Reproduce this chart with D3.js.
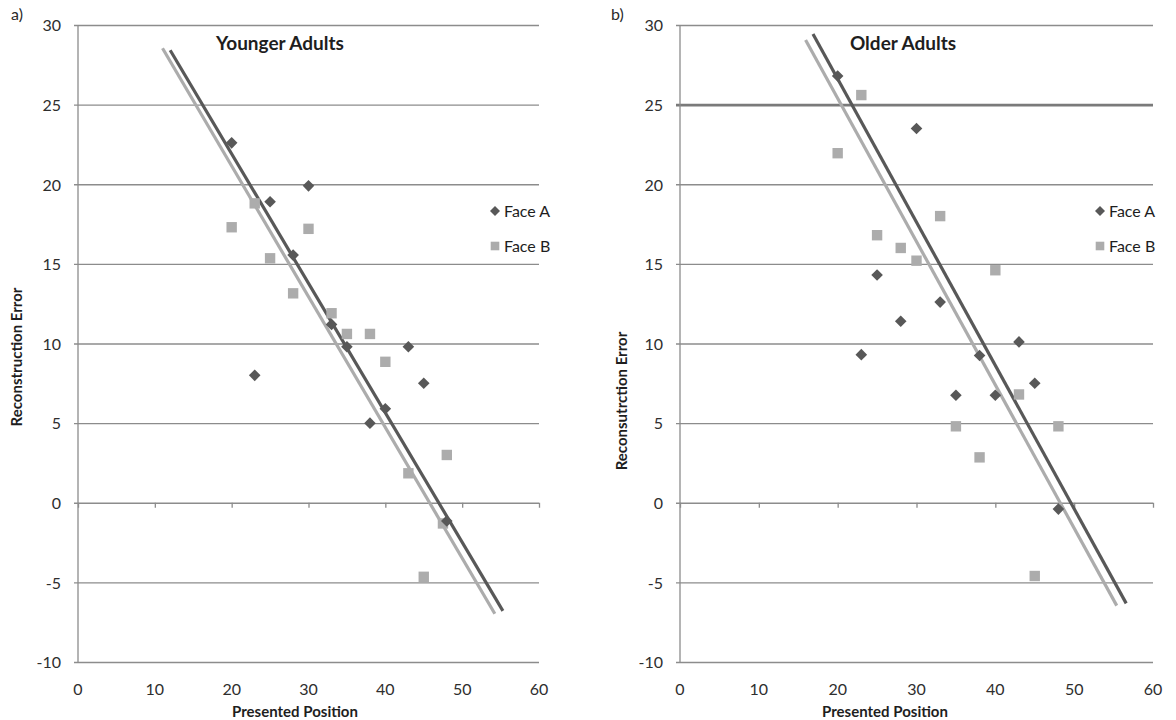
<!DOCTYPE html>
<html><head><meta charset="utf-8">
<script src="https://cdn.jsdelivr.net/npm/d3@7"></script>
<style>
body{margin:0;background:#fff;}
svg{display:block;}
text{font-family:Lato,"Open Sans",sans-serif;}
</style></head>
<body>
<svg id="chart" width="1176" height="720"></svg>
<script>
// ---- data ----
const xTicks = [0, 10, 20, 30, 40, 50, 60];
const yTicks = [-10, -5, 0, 5, 10, 15, 20, 25, 30];
const seriesNames = ["Face A", "Face B"];

// Panel a) Younger Adults
const youngAx = [20, 23, 25, 28, 30, 33, 35, 38, 40, 43, 45, 48];
const youngAy = [22.6, 8.0, 18.9, 15.55, 19.9, 11.2, 9.8, 5.0, 5.9, 9.8, 7.5, -1.15];
const youngBx = [20, 23, 25, 28, 30, 33, 35, 38, 40, 43, 45, 48, 47.5];
const youngBy = [17.3, 18.8, 15.35, 13.15, 17.2, 11.9, 10.6, 10.6, 8.85, 1.85, -4.65, 3.0, -1.3];
// trend lines: [xStart, xEnd, slope, intercept]
const youngTrendA = [12.0, 55.3, -0.813, 38.17];
const youngTrendB = [11.0, 54.25, -0.821, 37.57];

// Panel b) Older Adults
const oldAx = [20, 23, 25, 28, 30, 33, 35, 38, 40, 43, 45, 48];
const oldAy = [26.8, 9.3, 14.3, 11.4, 23.5, 12.6, 6.75, 9.25, 6.75, 10.1, 7.5, -0.4];
const oldBx = [20, 23, 25, 28, 30, 33, 35, 38, 40, 43, 45, 48];
const oldBy = [21.95, 25.6, 16.8, 16.0, 15.2, 18.0, 4.8, 2.85, 14.6, 6.8, -4.6, 4.8];
const oldTrendA = [16.87, 56.6, -0.900, 44.62];
const oldTrendB = [15.93, 55.4, -0.900, 43.40];

const panels = [
  {tag:"a)", title:"Younger Adults", ylabel:"Reconstruction Error", xlabel:"Presented Position",
   ax:youngAx, ay:youngAy, bx:youngBx, by:youngBy, ta:youngTrendA, tb:youngTrendB,
   left:78, right:539, top:25, bottom:662, tagX:11, ylabX:22, ylabY:357, legX:495,
   titleX:280, xlabX:295, boldGrid:null},
  {tag:"b)", title:"Older Adults", ylabel:"Reconsutrction Error", xlabel:"Presented Position",
   ax:oldAx, ay:oldAy, bx:oldBx, by:oldBy, ta:oldTrendA, tb:oldTrendB,
   left:680, right:1153, top:25, bottom:662, tagX:611, ylabX:627, ylabY:401, legX:1100,
   titleX:903, xlabX:885, boldGrid:25}
];

const colA = "#585858", colB = "#acacac", gridCol = "#8c8c8c", txtCol = "#2e2e2e";
const svg = d3.select("#chart");

// diamond = square rotated 45 degrees
const diamondPath = s => `M0,${-s}L${s},0L0,${s}L${-s},0Z`;
const squarePath = s => `M${-s},${-s}H${s}V${s}H${-s}Z`;

panels.forEach(p => {
  const x = d3.scaleLinear().domain([0, 60]).range([p.left, p.right]);
  const y = d3.scaleLinear().domain([-10, 30]).range([p.bottom, p.top]);
  const g = svg.append("g");

  // gridlines (y-axis with full-width ticks)
  const yAxis = d3.axisLeft(y).tickValues(yTicks).tickSize(-(p.right - p.left)).tickFormat(d => String(d));
  const ya = g.append("g").attr("transform", `translate(${p.left},0)`).call(yAxis);
  ya.select(".domain").remove();
  ya.selectAll(".tick line").attr("x1", -4)
    .attr("stroke", d => d === p.boldGrid ? "#7a7a7a" : gridCol)
    .attr("stroke-width", d => d === p.boldGrid ? 2.8 : 1.3);
  ya.selectAll(".tick text").attr("fill", txtCol).style("font-size", "16px").attr("x", -17).attr("dy", "0.36em");

  // vertical axis line
  g.append("line").attr("x1", p.left).attr("x2", p.left).attr("y1", p.top).attr("y2", p.bottom)
    .attr("stroke", gridCol).attr("stroke-width", 1.3);

  // x axis at y=0 with small ticks
  const xAxis = d3.axisBottom(x).tickValues(xTicks).tickSize(5).tickFormat("");
  const xa = g.append("g").attr("transform", `translate(0,${y(0)})`).call(xAxis);
  xa.select(".domain").remove();
  xa.selectAll(".tick line").attr("stroke", gridCol).attr("stroke-width", 1.3);
  // x tick labels at bottom
  g.selectAll(".xlab").data(xTicks).enter().append("text")
    .attr("x", d => x(d)).attr("y", p.bottom + 33).attr("text-anchor", "middle")
    .attr("fill", txtCol).style("font-size", "16px").text(d => d);

  // trend lines
  const trend = t => [[t[0], t[2] * t[0] + t[3]], [t[1], t[2] * t[1] + t[3]]];
  const line = d3.line().x(d => x(d[0])).y(d => y(d[1]));
  g.append("path").attr("d", line(trend(p.tb))).attr("stroke", colB).attr("stroke-width", 3.2).attr("fill", "none");
  g.append("path").attr("d", line(trend(p.ta))).attr("stroke", colA).attr("stroke-width", 3.2).attr("fill", "none");

  // points
  g.selectAll(".pb").data(p.bx.map((v, i) => [v, p.by[i]])).enter().append("path")
    .attr("d", squarePath(5.2)).attr("transform", d => `translate(${x(d[0])},${y(d[1])})`).attr("fill", colB);
  g.selectAll(".pa").data(p.ax.map((v, i) => [v, p.ay[i]])).enter().append("path")
    .attr("d", diamondPath(5.8)).attr("transform", d => `translate(${x(d[0])},${y(d[1])})`).attr("fill", colA);

  // title
  g.append("text").attr("x", p.titleX).attr("y", 50).attr("text-anchor", "middle")
    .style("font-size", "19px").style("font-weight", "bold").attr("fill", "#1e1e1e").text(p.title);
  // tag
  g.append("text").attr("x", p.tagX).attr("y", 20).style("font-size", "16px").attr("fill", "#2a2a2a").text(p.tag);
  // axis titles
  g.append("text").attr("transform", `translate(${p.ylabX},${p.ylabY}) rotate(-90)`).attr("text-anchor", "middle")
    .style("font-size", "15px").style("font-weight", "bold").attr("fill", "#1e1e1e").text(p.ylabel);
  g.append("text").attr("x", p.xlabX).attr("y", p.bottom + 55).attr("text-anchor", "middle")
    .style("font-size", "15px").style("font-weight", "bold").attr("fill", "#1e1e1e").text(p.xlabel);

  // legend
  seriesNames.forEach((n, i) => {
    const ly = 211 + i * 35;
    g.append("path").attr("d", i === 0 ? diamondPath(5) : squarePath(4.3))
      .attr("transform", `translate(${p.legX},${ly})`).attr("fill", i === 0 ? colA : colB);
    g.append("text").attr("x", p.legX + 9).attr("y", ly + 5.5).style("font-size", "16px").attr("fill", "#1e1e1e").text(n);
  });
});
</script>
</body></html>
